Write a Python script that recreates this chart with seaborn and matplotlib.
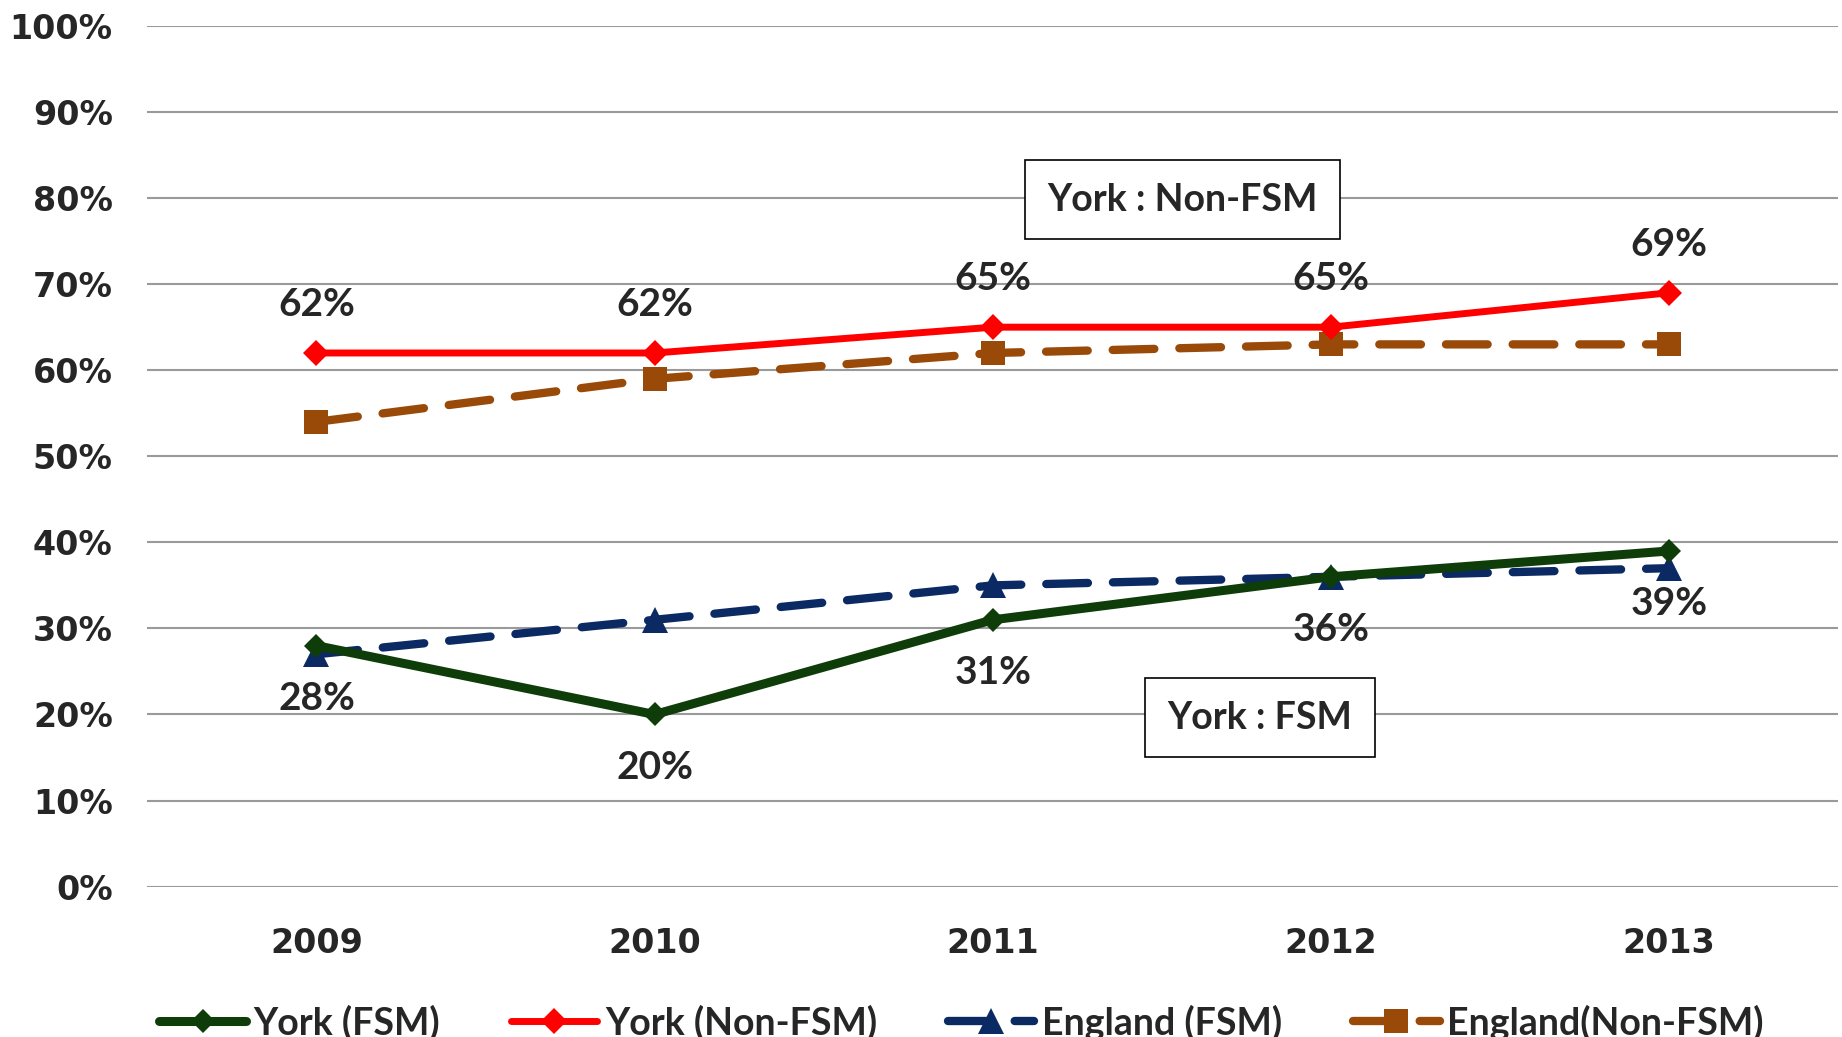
import pandas as pd
import numpy as np
import matplotlib
matplotlib.use("Agg")
import matplotlib.pyplot as plt
import seaborn as sns

# data
years = ["2009", "2010", "2011", "2012", "2013"]
york_fsm = [28, 20, 31, 36, 39]
york_non_fsm = [62, 62, 65, 65, 69]
england_fsm = [27, 31, 35, 36, 37]
england_non_fsm = [54, 59, 62, 63, 63]
y_ticks = [0, 10, 20, 30, 40, 50, 60, 70, 80, 90, 100]

sns.set_style("white")
plt.rcParams["font.family"] = ["Lato", "DejaVu Sans"]

fig = plt.figure(figsize=(18.42, 10.37), dpi=100)
ax = fig.add_axes([0.08, 0.145, 0.918, 0.83])

x = np.arange(len(years))

#England series first so York lines sit on top
sns.lineplot(x=x, y=england_non_fsm, ax=ax, color="#9A4A08", linewidth=6,
             marker="s", markersize=17, markeredgewidth=0, label="England(Non-FSM)")
ax.lines[-1].set_dashes([5, 3])
ax.lines[-1].set_dash_capstyle("round")

sns.lineplot(x=x, y=england_fsm, ax=ax, color="#0B2A63", linewidth=6,
             marker="^", markersize=19, markeredgewidth=0, label="England (FSM)")
ax.lines[-1].set_dashes([5, 3])
ax.lines[-1].set_dash_capstyle("round")

sns.lineplot(x=x, y=york_non_fsm, ax=ax, color="#FF0000", linewidth=5,
             marker="D", markersize=13, markeredgewidth=0, label="York (Non-FSM)")

sns.lineplot(x=x, y=york_fsm, ax=ax, color="#0F3D0A", linewidth=6.5,
             marker="D", markersize=12, markeredgewidth=0, label="York (FSM)")

# data labels
for i, v in enumerate(york_non_fsm):
    ax.annotate(f"{v}%", (x[i], v), xytext=(0, 35), textcoords="offset points",
                ha="center", va="center", fontsize=28, fontweight="bold")
for i, v in enumerate(york_fsm):
    ax.annotate(f"{v}%", (x[i], v), xytext=(0, -38), textcoords="offset points",
                ha="center", va="center", fontsize=28, fontweight="bold")

# boxed series names
ax.text(2.56, 79.8, "York : Non-FSM", fontsize=27, fontweight="bold",
        ha="center", va="center",
        bbox=dict(boxstyle="square,pad=0.6", fc="white", ec="black", lw=1.2))
ax.text(2.79, 19.6, "York : FSM", fontsize=27, fontweight="bold",
        ha="center", va="center",
        bbox=dict(boxstyle="square,pad=0.6", fc="white", ec="black", lw=1.2))

ax.set_xlim(-0.5, 4.5)
ax.set_ylim(0, 100)
ax.set_xticks(x)
ax.set_xticklabels(years)
ax.set_yticks(y_ticks)
ax.set_yticklabels([f"{t}%" for t in y_ticks])
ax.yaxis.grid(True, color="#9A9A9A", linewidth=1.5)
ax.set_axisbelow(True)
for s in ax.spines.values():
    s.set_visible(False)
ax.tick_params(axis="both", length=0, labelsize=24)
ax.tick_params(axis="y", pad=25)
ax.tick_params(axis="x", pad=29)
for lbl in ax.get_yticklabels() + ax.get_xticklabels():
    lbl.set_fontweight("bold")
    lbl.set_family(["DejaVu Sans"])

handles, labels = ax.get_legend_handles_labels()
order = [3, 2, 1, 0]
ax.get_legend().remove()
fig.legend([handles[i] for i in order], [labels[i] for i in order],
           loc="center", bbox_to_anchor=(0.522, 0.014), ncol=4, frameon=False,
           handlelength=2.3, handletextpad=0.2, columnspacing=1.9,
           prop={"weight": "bold", "size": 27})

fig.savefig("out.png", dpi=100)
